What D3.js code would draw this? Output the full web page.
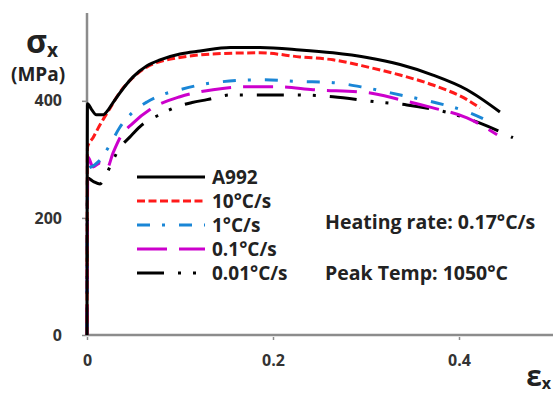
<!DOCTYPE html>
<html>
<head>
<meta charset="utf-8">
<script src="https://cdn.jsdelivr.net/npm/d3@7"></script>
<style>
  html, body { margin: 0; padding: 0; background: #fff; }
  svg { display: block; font-family: "Open Sans", Lato, sans-serif; font-weight: bold; }
</style>
</head>
<body>
<div id="chart"></div>
<script>
// strain / stress (MPa) pairs
const a992 = [
  [0, 0], [0.0005, 395], [0.005, 385], [0.01, 376], [0.017, 376], [0.023, 385],
  [0.028, 397], [0.0495, 441], [0.0645, 460], [0.0785, 470], [0.1, 480],
  [0.1215, 485], [0.154, 491], [0.186, 491], [0.229, 487], [0.2645, 482],
  [0.301, 474], [0.3366, 462], [0.372, 444], [0.4086, 419], [0.444, 381]
];
const rate10 = [
  [0, 0], [0.0005, 321], [0.0065, 337], [0.014, 359], [0.025, 388], [0.035, 414],
  [0.049, 439], [0.0645, 458], [0.0785, 467], [0.1, 474], [0.135, 480],
  [0.186, 482], [0.229, 475], [0.2645, 470], [0.301, 458], [0.3366, 444],
  [0.372, 427], [0.4086, 402], [0.4226, 388]
];
const rate1 = [
  [0, 0], [0.0005, 282], [0.0086, 291], [0.014, 299], [0.0247, 325], [0.035, 354],
  [0.0495, 381], [0.0645, 398], [0.0785, 409], [0.1, 419], [0.1355, 431],
  [0.189, 436], [0.229, 433], [0.2645, 431], [0.301, 422], [0.337, 410],
  [0.372, 398], [0.409, 381], [0.433, 364]
];
const rate01 = [
  [0, 0], [0.001, 304], [0.0065, 287], [0.014, 294], [0.0215, 285], [0.028, 311],
  [0.0355, 337], [0.0495, 362], [0.0677, 385], [0.1, 407], [0.1355, 419],
  [0.172, 424], [0.2075, 424], [0.243, 419], [0.301, 414], [0.3366, 402],
  [0.372, 388], [0.4086, 371], [0.441, 342]
];
const rate001 = [
  [0, 0], [0.0005, 268], [0.007, 262], [0.014, 258], [0.0194, 270], [0.028, 299],
  [0.0355, 320], [0.046, 338], [0.057, 356], [0.0817, 379], [0.0968, 390],
  [0.113, 397], [0.129, 402], [0.154, 410], [0.189, 410], [0.229, 410],
  [0.2645, 407], [0.312, 398], [0.344, 393], [0.39, 379], [0.4226, 362],
  [0.458, 337]
];

const seriesNames = ['A992', '10°C/s', '1°C/s', '0.1°C/s', '0.01°C/s'];
const seriesData = [a992, rate10, rate1, rate01, rate001];
const xTicks = [0, 0.2, 0.4];
const yTicks = [0, 200, 400];
const notes = ['Heating rate: 0.17°C/s', 'Peak Temp: 1050°C'];

const styles = [
  { color: '#000000', dash: null },
  { color: '#ff1a1a', dash: '8,3.5' },
  { color: '#1a86d6', dash: '13,12,3,14' },
  { color: '#cc00cc', dash: '30,12' },
  { color: '#000000', dash: '27,14,3,12,3,14' }
];

const W = 553, H = 394;
const svg = d3.select('#chart').append('svg')
  .attr('width', W)
  .attr('height', H);

const x = d3.scaleLinear().domain([0, 0.5]).range([87, 552]);
const y = d3.scaleLinear().domain([0, 550]).range([335, 13]);

// axes
const axisColor = '#8c8c8c';
const xAxis = svg.append('g')
  .attr('transform', `translate(0, ${y(0)})`)
  .call(d3.axisBottom(x).tickValues(xTicks).tickSize(5).tickPadding(15)
    .tickFormat(d => d === 0 ? '0' : d3.format('.1f')(d)));
const yAxis = svg.append('g')
  .attr('transform', `translate(${x(0)}, 0)`)
  .call(d3.axisLeft(y).tickValues(yTicks).tickSize(5).tickPadding(20));

[xAxis, yAxis].forEach(g => {
  g.select('.domain').attr('stroke', axisColor).attr('stroke-width', 2.5);
  g.selectAll('.tick line').attr('stroke', axisColor).attr('stroke-width', 1.5);
  g.selectAll('.tick text')
    .attr('fill', '#333')
    .style('font-size', '16px')
    .style('font-weight', 'bold')
    .style('font-family', '"Open Sans", Lato, sans-serif');
});
xAxis.select('.domain').attr('d', `M${x(0)},0H${W}`);
yAxis.select('.domain').attr('d', `M0,${y(550)}V${y(0)}`);
xAxis.selectAll('.tick line').attr('y1', 2);

// curves
const line = d3.line()
  .x(d => x(d[0]))
  .y(d => y(d[1]))
  .curve(d3.curveMonotoneX);

// draw lower ones first so the solid black stays on top
[4, 3, 2, 1, 0].forEach(i => {
  svg.append('path')
    .datum(seriesData[i])
    .attr('fill', 'none')
    .attr('stroke', styles[i].color)
    .attr('stroke-width', 3)
    .attr('stroke-dasharray', styles[i].dash)
    .attr('d', line);
});

// legend
const legend = svg.append('g').attr('transform', 'translate(137, 177)');
seriesNames.forEach((name, i) => {
  const row = legend.append('g').attr('transform', `translate(0, ${i * 24})`);
  row.append('line')
    .attr('x1', 0).attr('x2', 68)
    .attr('stroke', styles[i].color)
    .attr('stroke-width', 3)
    .attr('stroke-dasharray', styles[i].dash);
  row.append('text')
    .attr('x', 75).attr('y', 7)
    .attr('fill', '#222')
    .style('font-size', '19px')
    .text(name);
});

// notes
svg.selectAll('.note')
  .data(notes)
  .join('text')
  .attr('class', 'note')
  .attr('x', 325)
  .attr('y', (d, i) => 229 + i * 51)
  .attr('fill', '#222')
  .style('font-size', '19.5px')
  .text(d => d);

// axis titles
const yTitle = svg.append('text').attr('x', 26).attr('y', 53).attr('fill', '#222');
yTitle.append('tspan').style('font-size', '32px').text('σ');
yTitle.append('tspan').style('font-size', '19px').attr('dy', 4).text('x');
svg.append('text')
  .attr('x', 11).attr('y', 81)
  .attr('fill', '#222')
  .style('font-size', '19px')
  .text('(MPa)');

const xTitle = svg.append('text')
  .attr('x', 551).attr('y', 386)
  .attr('text-anchor', 'end')
  .attr('fill', '#222');
xTitle.append('tspan').style('font-size', '28px').text('ε');
xTitle.append('tspan').style('font-size', '16px').attr('dy', 3).text('x');
</script>
</body>
</html>
